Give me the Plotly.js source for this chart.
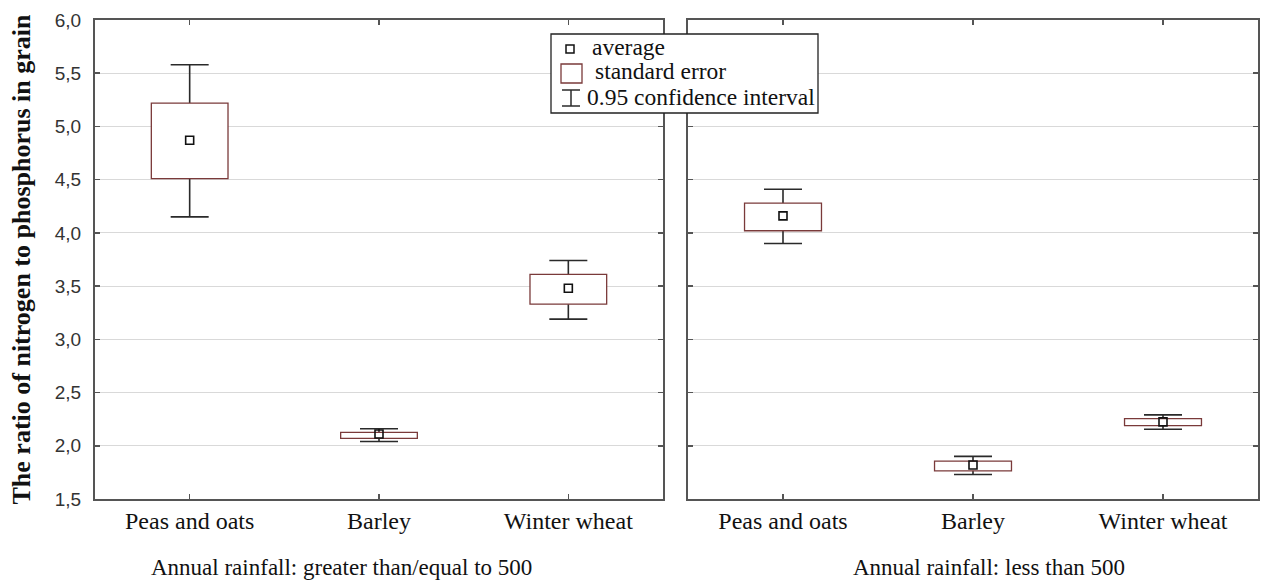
<!DOCTYPE html>
<html>
<head>
<meta charset="utf-8">
<script src="https://cdn.plot.ly/plotly-3.0.1.min.js"></script>
<style>html,body{margin:0;padding:0;background:#fff;}#chart{width:1264px;height:582px;}</style>
</head>
<body>
<div id="chart"></div>
<script>
// Categories
const categories = ['Peas and oats', 'Barley', 'Winter wheat'];
const panelTitles = ['Annual rainfall: greater than/equal to 500', 'Annual rainfall: less than 500'];

// Panel 1: annual rainfall >= 500
const meanHi  = [4.87, 2.11, 3.48];
const seLoHi  = [4.51, 2.07, 3.33];
const seUpHi  = [5.22, 2.125, 3.61];
const ciLoHi  = [4.15, 2.04, 3.19];
const ciUpHi  = [5.58, 2.16, 3.74];

// Panel 2: annual rainfall < 500
const meanLo  = [4.16, 1.82, 2.225];
const seLoLo  = [4.02, 1.765, 2.19];
const seUpLo  = [4.28, 1.855, 2.255];
const ciLoLo  = [3.90, 1.73, 2.155];
const ciUpLo  = [4.41, 1.90, 2.29];

const yTicks = [1.5, 2.0, 2.5, 3.0, 3.5, 4.0, 4.5, 5.0, 5.5, 6.0];

const legendLabels = ['average', 'standard error', '0.95 confidence interval'];

const BOX_COLOR = '#7a3a3a';
const WHISK_COLOR = '#2a2a2a';
const SERIF = 'Liberation Serif, Times New Roman, serif';

function panelTraces(mean, seLo, seUp, ciLo, ciUp, xa, ya) {
  const diff = (a, b) => a.map((v, i) => v - b[i]);
  return [
    { // confidence interval whiskers (invisible bar spanning CI, error bar drawn downward from top)
      type: 'bar', x: categories, base: ciLo, y: diff(ciUp, ciLo), width: 0.4,
      xaxis: xa, yaxis: ya, showlegend: false, hoverinfo: 'skip',
      marker: { color: 'rgba(0,0,0,0)', line: { width: 0 } },
      error_y: { type: 'data', symmetric: false, array: categories.map(() => 0),
                 arrayminus: diff(ciUp, ciLo), width: 19, thickness: 1.6, color: WHISK_COLOR }
    },
    { // standard error box
      type: 'bar', x: categories, base: seLo, y: diff(seUp, seLo), width: 0.405,
      xaxis: xa, yaxis: ya, showlegend: false,
      marker: { color: '#ffffff', line: { color: BOX_COLOR, width: 1.3 } }
    },
    { // average
      type: 'scatter', mode: 'markers', x: categories, y: mean,
      xaxis: xa, yaxis: ya, showlegend: false,
      marker: { symbol: 'square-open', size: 8, color: '#111', line: { width: 1.6, color: '#111' } }
    }
  ];
}

const data = [
  ...panelTraces(meanHi, seLoHi, seUpHi, ciLoHi, ciUpHi, 'x', 'y'),
  ...panelTraces(meanLo, seLoLo, seUpLo, ciLoLo, ciUpLo, 'x2', 'y2')
];

// pixel helpers for the legend box (layout only)
const L = 95, R = 1258, T = 20, B = 499;
const px = x => (x - L) / (R - L);
const py = y => (B - y) / (B - T);

const xCommon = {
  type: 'category', range: [-0.5, 2.5],
  showline: true, linecolor: '#555', linewidth: 2, mirror: 'ticks',
  ticks: 'inside', ticklen: 5, tickwidth: 1.5, tickcolor: '#555',
  showgrid: false, zeroline: false,
  tickfont: { family: SERIF, size: 24, color: '#111' },
  ticklabelstandoff: -1
};
const yCommon = {
  range: [1.5, 6.0], tickvals: yTicks, tickformat: '.1f',
  showline: true, linecolor: '#555', linewidth: 2, mirror: 'ticks',
  ticks: 'inside', ticklen: 5, tickwidth: 1.5, tickcolor: '#555',
  showgrid: true, gridcolor: '#d9d9d9', gridwidth: 1, zeroline: false,
  tickfont: { family: 'Liberation Sans, Arial, sans-serif', size: 19, color: '#333' }
};

const shapes = [
  { type: 'rect', xref: 'paper', yref: 'paper', x0: px(551), x1: px(818), y0: py(113), y1: py(34),
    fillcolor: '#fff', line: { color: '#222', width: 1.3 }, layer: 'above' },
  { type: 'rect', xref: 'paper', yref: 'paper', x0: px(566), x1: px(574), y0: py(53), y1: py(45),
    fillcolor: '#fff', line: { color: '#111', width: 1.5 }, layer: 'above' },
  { type: 'rect', xref: 'paper', yref: 'paper', x0: px(561), x1: px(582), y0: py(83), y1: py(64),
    fillcolor: '#fff', line: { color: BOX_COLOR, width: 1.3 }, layer: 'above' },
  { type: 'line', xref: 'paper', yref: 'paper', x0: px(562), x1: px(580), y0: py(90), y1: py(90),
    line: { color: WHISK_COLOR, width: 1.5 }, layer: 'above' },
  { type: 'line', xref: 'paper', yref: 'paper', x0: px(562), x1: px(580), y0: py(106), y1: py(106),
    line: { color: WHISK_COLOR, width: 1.5 }, layer: 'above' },
  { type: 'line', xref: 'paper', yref: 'paper', x0: px(571), x1: px(571), y0: py(90), y1: py(106),
    line: { color: WHISK_COLOR, width: 1.5 }, layer: 'above' }
];

const legFont = { family: SERIF, size: 23.5, color: '#111' };
const annotations = [
  { text: legendLabels[0], xref: 'paper', yref: 'paper', x: px(590), y: py(47), xanchor: 'left', yanchor: 'middle', showarrow: false, font: legFont },
  { text: legendLabels[1], xref: 'paper', yref: 'paper', x: px(593), y: py(71), xanchor: 'left', yanchor: 'middle', showarrow: false, font: legFont },
  { text: legendLabels[2], xref: 'paper', yref: 'paper', x: px(585), y: py(97), xanchor: 'left', yanchor: 'middle', showarrow: false, font: legFont },
  { text: panelTitles[0], xref: 'paper', yref: 'paper', x: px(341), y: py(567), xanchor: 'center', yanchor: 'middle', showarrow: false, font: { family: SERIF, size: 23, color: '#111' } },
  { text: panelTitles[1], xref: 'paper', yref: 'paper', x: px(989), y: py(567), xanchor: 'center', yanchor: 'middle', showarrow: false, font: { family: SERIF, size: 23, color: '#111' } }
];

const layout = {
  width: 1264, height: 582,
  margin: { l: L, r: 1264 - R, t: T, b: 582 - B },
  paper_bgcolor: '#fff', plot_bgcolor: '#fff',
  separators: ',.',
  barmode: 'overlay',
  showlegend: false,
  xaxis: Object.assign({}, xCommon, { domain: [0, px(663)], anchor: 'y' }),
  xaxis2: Object.assign({}, xCommon, { domain: [px(688), 1], anchor: 'y2' }),
  yaxis: Object.assign({}, yCommon, { anchor: 'x', ticklabelstandoff: 8,
    title: { text: '<b>The ratio of nitrogen to phosphorus in grain</b>', standoff: 17,
             font: { family: SERIF, size: 26, color: '#111' } } }),
  yaxis2: Object.assign({}, yCommon, { anchor: 'x2', matches: 'y', showticklabels: false }),
  shapes: shapes,
  annotations: annotations
};

Plotly.newPlot('chart', data, layout, { staticPlot: true, displayModeBar: false });
</script>
</body>
</html>
